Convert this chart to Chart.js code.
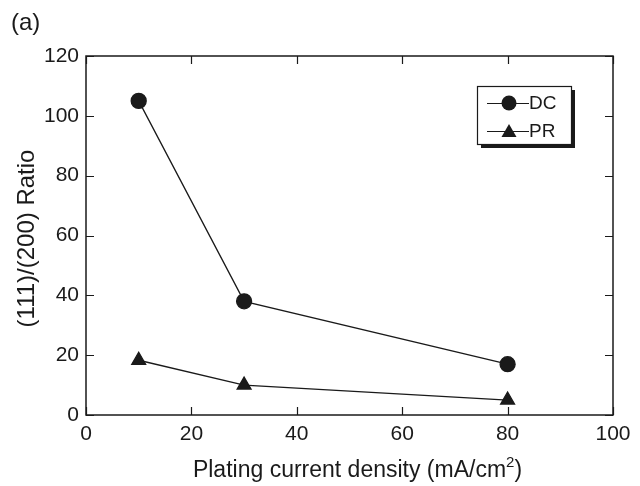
<!DOCTYPE html>
<html>
<head>
<meta charset="utf-8">
<script src="https://cdn.jsdelivr.net/npm/chart.js@4.4.0/dist/chart.umd.min.js"></script>
<style>
  html, body { margin: 0; padding: 0; background: #fff; }
  #wrap { width: 640px; height: 486px; position: relative; }
</style>
</head>
<body>
<div id="wrap"><canvas id="ratioChart" width="640" height="486"></canvas></div>
<script>
var currentDensity = [10, 30, 80];
var dcRatio = [105, 38, 17];
var prRatio = [18.3, 10, 5];
var xTicks = [0, 20, 40, 60, 80, 100];
var yTicks = [0, 20, 40, 60, 80, 100, 120];
var ink = '#1a1a1a';
var fontName = '"Liberation Sans", Arial, sans-serif';

function toPoints(xs, ys) {
    var out = [];
    for (var i = 0; i < xs.length; i++) out.push({x: xs[i], y: ys[i]});
    return out;
}

// frame with inward ticks, axis titles, panel label and the boxed legend
var framePlugin = {
    id: 'frame',
    afterDraw: function (chart) {
        var ctx = chart.ctx;
        var a = chart.chartArea;
        var xs = chart.scales.x, ys = chart.scales.y;
        ctx.save();
        ctx.strokeStyle = ink;
        ctx.lineWidth = 1.5;
        ctx.strokeRect(a.left, a.top, a.right - a.left, a.bottom - a.top);
        ctx.lineWidth = 1.2;
        xTicks.forEach(function (v) {
            var px = Math.round(xs.getPixelForValue(v)) + 0.5;
            ctx.beginPath();
            ctx.moveTo(px, a.bottom); ctx.lineTo(px, a.bottom - 8);
            ctx.moveTo(px, a.top); ctx.lineTo(px, a.top + 8);
            ctx.stroke();
        });
        yTicks.forEach(function (v) {
            var py = Math.round(ys.getPixelForValue(v)) + 0.5;
            ctx.beginPath();
            ctx.moveTo(a.left, py); ctx.lineTo(a.left + 8, py);
            ctx.moveTo(a.right, py); ctx.lineTo(a.right - 8, py);
            ctx.stroke();
        });

        ctx.fillStyle = ink;
        ctx.textBaseline = 'middle';
        ctx.textAlign = 'left';
        ctx.font = '24px ' + fontName;
        ctx.fillText('(a)', 11, 23);

        // x title with a real superscript
        var main = 'Plating current density (mA/cm';
        ctx.font = '23px ' + fontName;
        var w1 = ctx.measureText(main).width;
        var w3 = ctx.measureText(')').width;
        ctx.font = '15px ' + fontName;
        var w2 = ctx.measureText('2').width;
        var x0 = (a.left + a.right) / 2 + 8 - (w1 + w2 + w3) / 2;
        ctx.textBaseline = 'alphabetic';
        ctx.font = '23px ' + fontName;
        ctx.fillText(main, x0, 477);
        ctx.fillText(')', x0 + w1 + w2, 477);
        ctx.font = '15px ' + fontName;
        ctx.fillText('2', x0 + w1, 467);

        // y title
        ctx.save();
        ctx.translate(27, (a.top + a.bottom) / 2 + 3);
        ctx.rotate(-Math.PI / 2);
        ctx.textAlign = 'center';
        ctx.textBaseline = 'middle';
        ctx.font = '24px ' + fontName;
        ctx.fillText('(111)/(200) Ratio', 0, 0);
        ctx.restore();

        // legend box with drop shadow
        var bx = 477, by = 86, bw = 94, bh = 58;
        ctx.fillStyle = ink;
        ctx.fillRect(bx + 4, by + 4, bw, bh);
        ctx.fillStyle = '#fff';
        ctx.fillRect(bx, by, bw, bh);
        ctx.lineWidth = 1.2;
        ctx.strokeStyle = ink;
        ctx.strokeRect(bx + 0.5, by + 0.5, bw, bh);

        var rows = [
            {label: 'DC', y: by + 17, shape: 'circle'},
            {label: 'PR', y: by + 45, shape: 'triangle'}
        ];
        ctx.textBaseline = 'middle';
        ctx.textAlign = 'left';
        ctx.font = '19px ' + fontName;
        rows.forEach(function (r) {
            ctx.beginPath();
            ctx.moveTo(bx + 10, r.y + 0.5); ctx.lineTo(bx + 52, r.y + 0.5);
            ctx.stroke();
            ctx.fillStyle = ink;
            ctx.beginPath();
            if (r.shape === 'circle') {
                ctx.arc(bx + 32, r.y, 7.5, 0, Math.PI * 2);
            } else {
                ctx.moveTo(bx + 32, r.y - 7);
                ctx.lineTo(bx + 39.5, r.y + 6);
                ctx.lineTo(bx + 24.5, r.y + 6);
                ctx.closePath();
            }
            ctx.fill();
            ctx.fillText(r.label, bx + 52, r.y + 1);
        });
        ctx.restore();
    }
};

new Chart('ratioChart', {
    type: 'scatter',
    data: {
        datasets: [{
            label: 'DC',
            data: toPoints(currentDensity, dcRatio),
            showLine: true,
            borderColor: ink,
            borderWidth: 1.3,
            backgroundColor: ink,
            pointStyle: 'circle',
            pointRadius: 7.5,
            pointHoverRadius: 7.5
        }, {
            label: 'PR',
            data: toPoints(currentDensity, prRatio),
            showLine: true,
            borderColor: ink,
            borderWidth: 1.3,
            backgroundColor: ink,
            pointStyle: 'triangle',
            pointRadius: 8,
            pointHoverRadius: 8
        }]
    },
    options: {
        responsive: false,
        animation: false,
        layout: { padding: { top: 56, right: 27, left: 0, bottom: 0 } },
        plugins: {
            legend: { display: false },
            tooltip: { enabled: false }
        },
        scales: {
            x: {
                type: 'linear',
                min: 0,
                max: 100,
                afterFit: function (s) { s.height = 71; },
                afterBuildTicks: function (s) { s.ticks = xTicks.map(function (v) { return {value: v}; }); },
                grid: { display: false, drawTicks: false },
                border: { display: false },
                ticks: { color: ink, padding: 7, maxRotation: 0, font: { size: 21, family: fontName } }
            },
            y: {
                type: 'linear',
                min: 0,
                max: 120,
                afterFit: function (s) { s.width = 86; },
                afterBuildTicks: function (s) { s.ticks = yTicks.map(function (v) { return {value: v}; }); },
                grid: { display: false, drawTicks: false },
                border: { display: false },
                ticks: { color: ink, padding: 7, font: { size: 21, family: fontName } }
            }
        }
    },
    plugins: [framePlugin]
});
</script>
</body>
</html>
